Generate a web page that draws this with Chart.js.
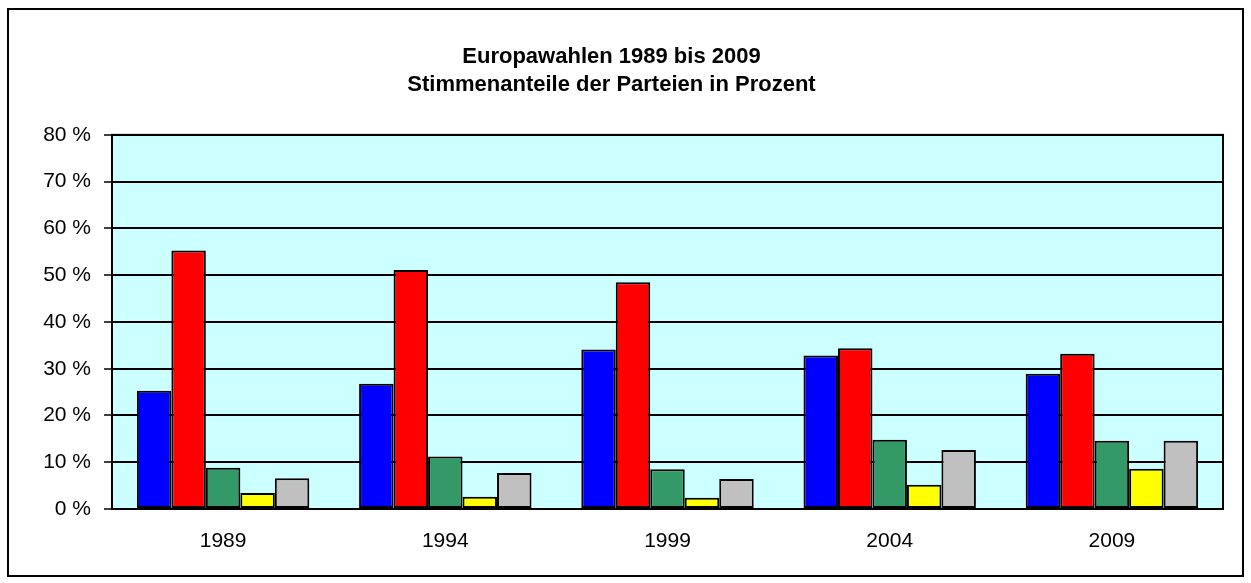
<!DOCTYPE html>
<html>
<head>
<meta charset="utf-8">
<script src="https://cdn.jsdelivr.net/npm/chart.js@4.4.1/dist/chart.umd.min.js"></script>
<style>
  html, body { margin: 0; padding: 0; background: #fff; }
  #wrap { width: 1251px; height: 583px; }
</style>
</head>
<body>
<div id="wrap"><canvas id="myChart" width="1251" height="583"></canvas></div>
<script>
// Jahre der Europawahlen
var years = ["1989", "1994", "1999", "2004", "2009"];
// Stimmenanteile in Prozent
var blue   = [25.3, 26.8, 34.1, 32.8, 28.9];
var red    = [55.3, 51.1, 48.5, 34.4, 33.2];
var green  = [8.8, 11.2, 8.5, 14.8, 14.6];
var yellow = [3.4, 2.6, 2.4, 5.2, 8.6];
var grey   = [6.6, 7.7, 6.4, 12.6, 14.6];
var yTicks = [0, 10, 20, 30, 40, 50, 60, 70, 80];

var titleLines = ["Europawahlen 1989 bis 2009", "Stimmenanteile der Parteien in Prozent"];

var fontFamily = "'Liberation Sans', Arial, sans-serif";

function ds(label, data, color) {
    return {
        label: label,
        data: data,
        backgroundColor: color,
        borderColor: "#000",
        borderWidth: 2,
        borderSkipped: false
    };
}

// Hintergrund der Zeichenfläche + Rahmen
var framePlugin = {
    id: 'frame',
    beforeDraw: function(chart) {
        var c = chart.ctx, a = chart.chartArea;
        c.save();
        c.fillStyle = "#fff";
        c.fillRect(0, 0, chart.width, chart.height);
        c.strokeStyle = "#000";
        c.lineWidth = 2;
        c.strokeRect(8, 9, 1235, 567);
        c.fillStyle = "#CCFFFF";
        c.fillRect(a.left, a.top, a.right - a.left, a.bottom - a.top);
        c.restore();
    },
    afterDatasetsDraw: function(chart) {
        var c = chart.ctx, a = chart.chartArea;
        c.save();
        c.strokeStyle = "#000";
        c.lineWidth = 2;
        c.strokeRect(a.left, a.top, a.right - a.left, a.bottom - a.top);
        c.restore();
    }
};

var ctx = document.getElementById('myChart');
var chart = new Chart(ctx, {
    type: 'bar',
    data: {
        labels: years,
        datasets: [
            ds("Blau", blue, "#0000FF"),
            ds("Rot", red, "#FF0000"),
            ds("Grün", green, "#339966"),
            ds("Gelb", yellow, "#FFFF00"),
            ds("Grau", grey, "#C0C0C0")
        ]
    },
    options: {
        responsive: false,
        animation: false,
        layout: { padding: { left: 0, right: 28, top: 15, bottom: 0 } },
        datasets: {
            bar: { categoryPercentage: 0.776, barPercentage: 1.0 }
        },
        plugins: {
            legend: { display: false },
            tooltip: { enabled: false },
            title: {
                display: true,
                text: titleLines,
                color: "#000",
                font: { family: fontFamily, size: 22, weight: 'bold', lineHeight: 1.27 },
                padding: { top: 28, bottom: 36 }
            }
        },
        scales: {
            x: {
                grid: { display: false },
                border: { display: false },
                ticks: {
                    color: "#000",
                    padding: 12,
                    font: { family: fontFamily, size: 21 }
                },
                afterFit: function(s) { s.height = 74; }
            },
            y: {
                min: 0,
                max: 80,
                afterBuildTicks: function(s) {
                    s.ticks = yTicks.map(function(v) { return { value: v }; });
                },
                grid: {
                    color: "#000",
                    lineWidth: 2,
                    drawTicks: true,
                    tickLength: 8,
                    tickColor: "#000",
                    tickWidth: 1.5
                },
                border: { display: false },
                ticks: {
                    color: "#000",
                    padding: 13,
                    font: { family: fontFamily, size: 21 },
                    callback: function(v) { return v + " %"; }
                },
                afterFit: function(s) { s.width = 112; }
            }
        }
    },
    plugins: [framePlugin]
});
</script>
</body>
</html>
